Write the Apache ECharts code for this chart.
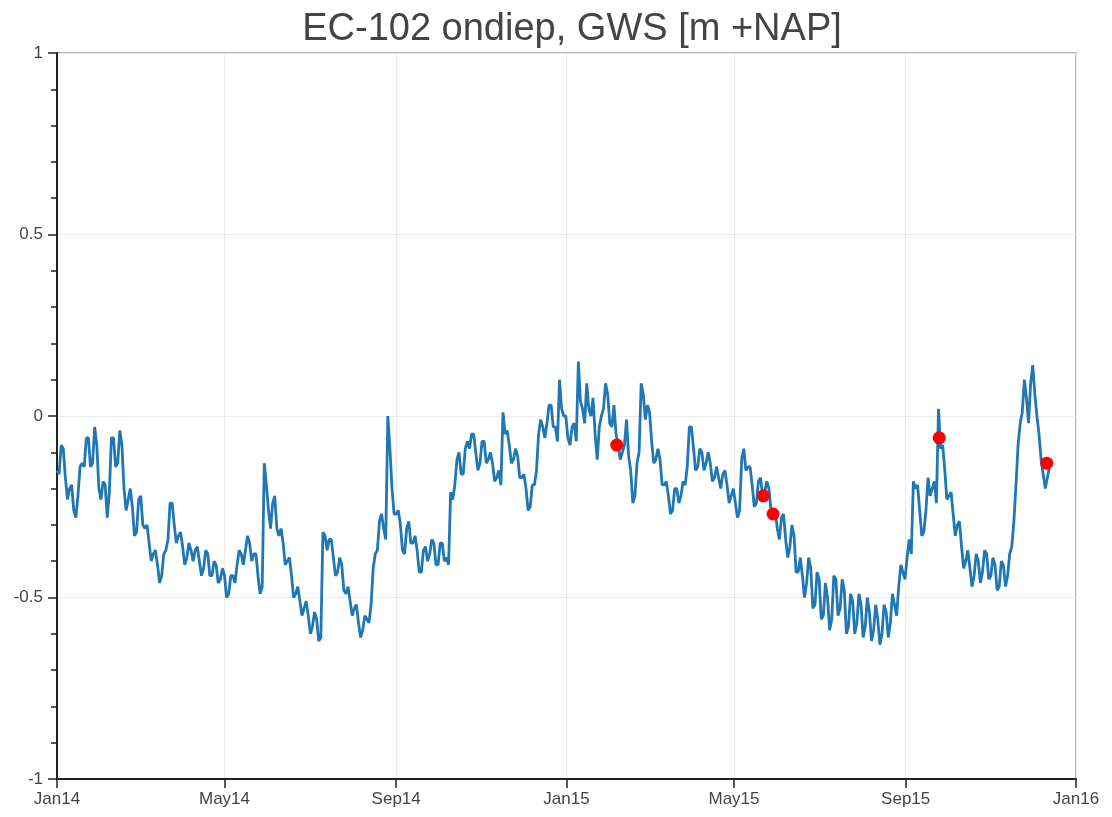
<!DOCTYPE html>
<html>
<head>
<meta charset="utf-8">
<title>EC-102 ondiep</title>
<script src="https://cdn.jsdelivr.net/npm/echarts@6/dist/echarts.min.js"></script>
<style>
    html, body { margin: 0; padding: 0; background: #fff; }
    #chart { width: 1112px; height: 817px; }
</style>
</head>
<body>
<div id="chart"></div>
<script>
    // groundwater level, one reading every 3 days from 2014-01-01
    const levelStart = '2014-01-01';
    const levelStepDays = 3;
    const levels = [
        -0.15, -0.08, -0.17, -0.20, -0.26, -0.22, -0.13, -0.06, -0.14, -0.03,
        -0.20, -0.18, -0.28, -0.06, -0.14, -0.04, -0.20, -0.23, -0.25, -0.32,
        -0.22, -0.31, -0.35, -0.38, -0.41, -0.44, -0.37, -0.24, -0.30, -0.33,
        -0.36, -0.39, -0.37, -0.37, -0.40, -0.42, -0.38, -0.44, -0.41, -0.45,
        -0.44, -0.49, -0.44, -0.41, -0.38, -0.37, -0.35, -0.38, -0.44, -0.47,
        -0.19, -0.31, -0.22, -0.33, -0.35, -0.40, -0.44, -0.49, -0.51, -0.53,
        -0.55, -0.58, -0.56, -0.61, -0.33, -0.34, -0.39, -0.43, -0.41, -0.49,
        -0.51, -0.53, -0.57, -0.59, -0.56, -0.52, -0.38, -0.29, -0.31, 0.00,
        -0.20, -0.27, -0.30, -0.38, -0.29, -0.35, -0.37, -0.43, -0.36, -0.38,
        -0.35, -0.41, -0.35, -0.39, -0.21, -0.19, -0.10, -0.16, -0.07, -0.05,
        -0.10, -0.13, -0.07, -0.12, -0.13, -0.17, -0.19, -0.05, -0.08, -0.12,
        -0.11, -0.17, -0.20, -0.25, -0.19, -0.05, -0.03, -0.02, 0.03, -0.03,
        0.10, 0.00, -0.06, -0.03, -0.07, 0.04, -0.02, 0.02, 0.05, -0.12,
        0.00, 0.09, -0.02, 0.03, -0.08, -0.10, -0.01, -0.15, -0.22, -0.10,
        0.06, 0.03, -0.07, -0.12, -0.12, -0.19, -0.22, -0.26, -0.20, -0.22,
        -0.19, -0.03, -0.09, -0.14, -0.10, -0.13, -0.13, -0.17, -0.17, -0.16,
        -0.19, -0.22, -0.24, -0.26, -0.09, -0.14, -0.19, -0.24, -0.17, -0.21,
        -0.20, -0.26, -0.31, -0.28, -0.34, -0.36, -0.33, -0.43, -0.44, -0.46,
        -0.42, -0.52, -0.45, -0.55, -0.50, -0.56, -0.45, -0.53, -0.48, -0.58,
        -0.51, -0.57, -0.52, -0.58, -0.54, -0.59, -0.56, -0.60, -0.54, -0.57,
        -0.52, -0.47, -0.43, -0.39, -0.38, -0.20, -0.26, -0.32, -0.17, -0.20,
        -0.24, -0.09, -0.15, -0.22, -0.27, -0.30, -0.36, -0.40, -0.42, -0.44,
        -0.40, -0.43, -0.38, -0.44, -0.41, -0.47, -0.41, -0.44, -0.36, -0.19,
        -0.02, 0.10, -0.02, 0.14, 0.00, -0.12, -0.20, -0.14
    ];
    // readings half-way between the ones above (the other side of the noise band)
    const levelsHalf = [
        -0.16, -0.09, -0.23, -0.19, -0.28, -0.14, -0.14, -0.06, -0.13, -0.08,
        -0.23, -0.19, -0.21, -0.06, -0.13, -0.08, -0.26, -0.20, -0.33, -0.23,
        -0.30, -0.30, -0.40, -0.37, -0.46, -0.38, -0.34, -0.24, -0.35, -0.32,
        -0.41, -0.35, -0.40, -0.36, -0.44, -0.37, -0.44, -0.40, -0.46, -0.42,
        -0.50, -0.44, -0.46, -0.37, -0.41, -0.33, -0.40, -0.38, -0.49, -0.13,
        -0.26, -0.24, -0.31, -0.31, -0.41, -0.39, -0.50, -0.47, -0.55, -0.51,
        -0.60, -0.54, -0.62, -0.32, -0.37, -0.34, -0.44, -0.39, -0.48, -0.47,
        -0.55, -0.52, -0.61, -0.55, -0.57, -0.42, -0.37, -0.27, -0.34, -0.09,
        -0.27, -0.26, -0.37, -0.31, -0.35, -0.33, -0.43, -0.37, -0.40, -0.34,
        -0.41, -0.35, -0.40, -0.41, -0.23, -0.12, -0.16, -0.09, -0.09, -0.05,
        -0.15, -0.07, -0.13, -0.10, -0.18, -0.15, 0.01, -0.04, -0.13, -0.09,
        -0.17, -0.16, -0.26, -0.19, -0.15, -0.01, -0.06, 0.03, -0.03, -0.07,
        0.02, 0.00, -0.08, -0.02, 0.15, 0.02, 0.09, 0.00, -0.05, -0.03,
        0.02, 0.06, -0.03, -0.05, -0.12, -0.08, -0.11, -0.24, -0.13, 0.09,
        -0.01, 0.01, -0.13, -0.09, -0.19, -0.18, -0.27, -0.20, -0.24, -0.18,
        -0.14, -0.03, -0.15, -0.09, -0.15, -0.10, -0.18, -0.14, -0.20, -0.15,
        -0.24, -0.20, -0.28, -0.12, -0.15, -0.14, -0.25, -0.18, -0.22, -0.18,
        -0.26, -0.26, -0.34, -0.27, -0.39, -0.30, -0.43, -0.39, -0.50, -0.39,
        -0.53, -0.43, -0.56, -0.46, -0.59, -0.44, -0.55, -0.45, -0.60, -0.49,
        -0.60, -0.49, -0.61, -0.50, -0.62, -0.52, -0.63, -0.52, -0.61, -0.49,
        -0.55, -0.41, -0.45, -0.34, -0.18, -0.19, -0.33, -0.26, -0.22, -0.18,
        0.02, -0.08, -0.23, -0.21, -0.33, -0.29, -0.42, -0.37, -0.47, -0.38,
        -0.46, -0.37, -0.45, -0.39, -0.48, -0.40, -0.47, -0.38, -0.29, -0.08,
        0.01, 0.05, 0.09, 0.06, -0.05, -0.16, -0.17
    ];

    // hand measurements (red dots)
    const measDates = ['2015-02-06', '2015-05-22', '2015-05-29', '2015-09-25', '2015-12-11'];
    const measValues = [-0.08, -0.22, -0.27, -0.06, -0.13];

    const tickDates = ['2014-01-01', '2014-05-01', '2014-09-01', '2015-01-01', '2015-05-01', '2015-09-01', '2016-01-01'];
    const tickLabels = ['Jan14', 'May14', 'Sep14', 'Jan15', 'May15', 'Sep15', 'Jan16'];

    const DAY = 24 * 3600 * 1000;
    const t0 = Date.parse(levelStart);
    const lineData = [];
    levels.forEach((v, i) => {
        lineData.push([t0 + i * levelStepDays * DAY, v]);
        if (i < levelsHalf.length) {
            lineData.push([t0 + (i + 0.5) * levelStepDays * DAY, levelsHalf[i]]);
        }
    });
    const dotData = measDates.map((d, i) => [Date.parse(d), measValues[i]]);
    const tickTimes = tickDates.map(d => Date.parse(d));
    const labelByTime = {};
    tickTimes.forEach((t, i) => { labelByTime[t] = tickLabels[i]; });

    const chart = echarts.init(document.getElementById('chart'));
    chart.setOption({
        animation: false,
        backgroundColor: '#fff',
        title: {
            text: 'EC-102 ondiep, GWS [m +NAP]',
            left: 567,
            top: 6,
            textAlign: 'center',
            textStyle: {
                fontFamily: 'Liberation Sans, Arial, sans-serif',
                fontSize: 38,
                fontWeight: 'normal',
                color: '#444'
            }
        },
        grid: {
            left: 57,
            right: 36,
            top: 53,
            bottom: 38,
            show: true,
            borderColor: '#b4b4b4',
            borderWidth: 2,
            containLabel: false
        },
        xAxis: {
            type: 'value',
            min: tickTimes[0],
            max: tickTimes[tickTimes.length - 1],
            axisLine: { show: true, onZero: false, lineStyle: { color: '#222', width: 2 } },
            axisTick: { show: true, length: 9, customValues: tickTimes, lineStyle: { color: '#222', width: 1.5 } },
            axisLabel: {
                customValues: tickTimes,
                formatter: v => labelByTime[v] || '',
                fontFamily: 'Liberation Sans, Arial, sans-serif',
                fontSize: 17,
                color: '#444',
                margin: 12,
                hideOverlap: false
            },
            splitLine: { show: true, lineStyle: { color: '#ececec', width: 1 } }
        },
        yAxis: {
            type: 'value',
            min: -1,
            max: 1,
            interval: 0.5,
            axisLine: { show: true, lineStyle: { color: '#222', width: 2 } },
            axisTick: { show: true, length: 9, lineStyle: { color: '#222', width: 1.5 } },
            minorTick: { show: true, splitNumber: 5, length: 6, lineStyle: { color: '#222', width: 1.5 } },
            axisLabel: {
                fontFamily: 'Liberation Sans, Arial, sans-serif',
                fontSize: 17,
                color: '#444',
                margin: 14
            },
            splitLine: { show: true, lineStyle: { color: '#ececec', width: 1 } }
        },
        series: [
            {
                name: 'GWS',
                type: 'line',
                data: lineData,
                showSymbol: false,
                lineStyle: { color: '#1f77b4', width: 2.8 },
                z: 2
            },
            {
                name: 'handmeting',
                type: 'scatter',
                data: dotData,
                symbolSize: 13,
                itemStyle: { color: '#ff0000', opacity: 1 },
                z: 3
            }
        ]
    });
</script>
</body>
</html>
